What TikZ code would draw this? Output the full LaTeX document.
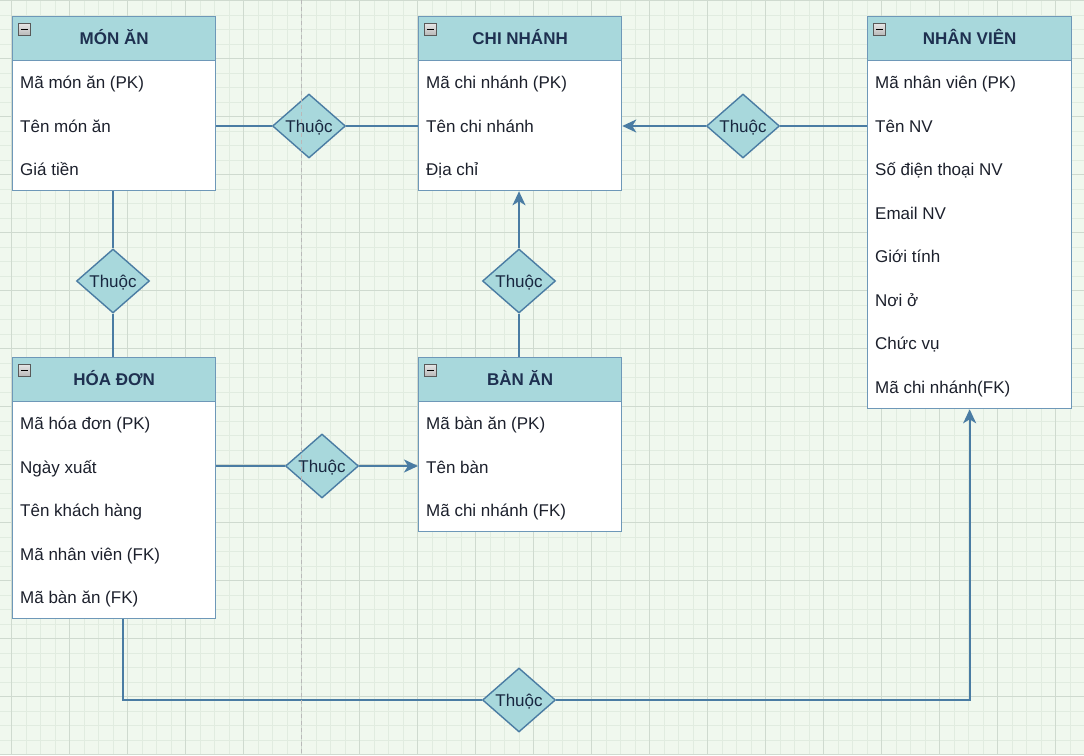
\documentclass[tikz,border=0pt]{standalone}
\usepackage{fontspec}
\setmainfont{Liberation Sans}
\usetikzlibrary{shapes.geometric,arrows.meta,positioning,calc}
\definecolor{gridbg}{RGB}{240,248,238}
\definecolor{gridminor}{RGB}{225,236,224}
\definecolor{gridmajor}{RGB}{207,218,207}
\definecolor{erteal}{RGB}{168,216,220}
\definecolor{erborder}{RGB}{110,152,184}
\definecolor{erline}{RGB}{74,124,163}
\definecolor{ertitle}{RGB}{30,48,80}
\definecolor{ertext}{RGB}{28,32,44}

\tikzset{
  header/.style={draw=erborder, line width=1.3pt, fill=erteal, minimum width=203pt, minimum height=44pt,
    anchor=north west, inner sep=0pt, text height=12.2pt, text depth=0pt,
    font=\fontsize{17}{20}\selectfont\bfseries, text=ertitle},
  body/.style={draw=erborder, line width=1.3pt, fill=white, minimum width=203pt, inner sep=0pt},
  attr/.style={anchor=west, inner sep=0pt, text height=12.2pt, text depth=0pt,
    font=\fontsize{17}{20}\selectfont, text=ertext},
  icon/.style={draw=gray!70!black, line width=0.6pt, top color=gray!20, bottom color=gray!55,
    minimum size=12pt, inner sep=0pt},
  relation/.style={diamond, draw=erline, line width=1.4pt, fill=erteal, minimum width=73pt, minimum height=64pt,
    inner sep=0pt, text height=12.2pt, text depth=0pt, font=\fontsize{17}{20}\selectfont, text=ertitle!80!black},
  link/.style={draw=erline, line width=2pt},
  tip/.style={-{Stealth[length=14pt,width=13pt,inset=4pt]}},
  minorline/.style={draw=gridminor, line width=0.6pt},
  majorline/.style={draw=gridmajor, line width=0.9pt},
  dashline/.style={draw=gray!55, line width=0.8pt, dash pattern=on 4pt off 3pt}
}

\begin{document}
\begin{tikzpicture}[x=1pt, y=-1pt]
  % Canvas and grid
  \useasboundingbox (0,0) rectangle (1084,755);
  \fill[gridbg] (0,0) rectangle (1084,755);
  \foreach \k in {0,...,75} \draw[minorline] ({-2.8+14.5*\k},0) -- ++(0,755);
  \foreach \k in {0,...,52} \draw[minorline] (0,{0.7+14.5*\k}) -- ++(1084,0);
  \foreach \k in {0,...,18} \draw[majorline] ({11.7+58*\k},0) -- ++(0,755);
  \foreach \k in {0,...,13} \draw[majorline] (0,{0.7+58*\k}) -- ++(1084,0);

  % MON AN
  \node[header] (monan) at (12,16) {MÓN ĂN};
  \node[body, minimum height=130pt, below=-1.3pt of monan] (monanbody) {};
  \node[icon, below right=7pt and 6pt of monan.north west] (monanicon) {\rule{7pt}{1.5pt}};
  \node[attr] (monan1) at (20,82.5) {Mã món ăn (PK)};
  \node[attr] (monan2) at (20,126) {Tên món ăn};
  \node[attr] (monan3) at (20,169.5) {Giá tiền};

  % CHI NHANH
  \node[header] (chinhanh) at (418,16) {CHI NHÁNH};
  \node[body, minimum height=130pt, below=-1.3pt of chinhanh] (chinhanhbody) {};
  \node[icon, below right=7pt and 6pt of chinhanh.north west] (chinhanhicon) {\rule{7pt}{1.5pt}};
  \node[attr] (chinhanh1) at (426,82.5) {Mã chi nhánh (PK)};
  \node[attr] (chinhanh2) at (426,126) {Tên chi nhánh};
  \node[attr] (chinhanh3) at (426,169.5) {Địa chỉ};

  % NHAN VIEN
  \node[header, minimum width=204pt] (nhanvien) at (867,16) {NHÂN VIÊN};
  \node[body, minimum width=204pt, minimum height=348pt, below=-1.3pt of nhanvien] (nhanvienbody) {};
  \node[icon, below right=7pt and 6pt of nhanvien.north west] (nhanvienicon) {\rule{7pt}{1.5pt}};
  \node[attr] (nhanvien1) at (875,82.5) {Mã nhân viên (PK)};
  \node[attr] (nhanvien2) at (875,126) {Tên NV};
  \node[attr] (nhanvien3) at (875,169.5) {Số điện thoại NV};
  \node[attr] (nhanvien4) at (875,213) {Email NV};
  \node[attr] (nhanvien5) at (875,256.5) {Giới tính};
  \node[attr] (nhanvien6) at (875,300) {Nơi ở};
  \node[attr] (nhanvien7) at (875,343.5) {Chức vụ};
  \node[attr] (nhanvien8) at (875,387) {Mã chi nhánh(FK)};

  % HOA DON
  \node[header] (hoadon) at (12,357) {HÓA ĐƠN};
  \node[body, minimum height=217pt, below=-1.3pt of hoadon] (hoadonbody) {};
  \node[icon, below right=7pt and 6pt of hoadon.north west] (hoadonicon) {\rule{7pt}{1.5pt}};
  \node[attr] (hoadon1) at (20,423.5) {Mã hóa đơn (PK)};
  \node[attr] (hoadon2) at (20,467) {Ngày xuất};
  \node[attr] (hoadon3) at (20,510.5) {Tên khách hàng};
  \node[attr] (hoadon4) at (20,554) {Mã nhân viên (FK)};
  \node[attr] (hoadon5) at (20,597.5) {Mã bàn ăn (FK)};

  % BAN AN
  \node[header] (banan) at (418,357) {BÀN ĂN};
  \node[body, minimum height=130pt, below=-1.3pt of banan] (bananbody) {};
  \node[icon, below right=7pt and 6pt of banan.north west] (bananicon) {\rule{7pt}{1.5pt}};
  \node[attr] (banan1) at (426,423.5) {Mã bàn ăn (PK)};
  \node[attr] (banan2) at (426,467) {Tên bàn};
  \node[attr] (banan3) at (426,510.5) {Mã chi nhánh (FK)};

  % Relations
  \node[relation] (thuoc1) at (309,126) {Thuộc};
  \node[relation] (thuoc2) at (743,126) {Thuộc};
  \node[relation] (thuoc3) at (113,281) {Thuộc};
  \node[relation] (thuoc4) at (519,281) {Thuộc};
  \node[relation] (thuoc5) at (322,466) {Thuộc};
  \node[relation] (thuoc6) at (519,700) {Thuộc};

  % Connections
  \draw[link] (monanbody.east |- thuoc1) -- (thuoc1.west);
  \draw[link] (thuoc1.east) -- (chinhanhbody.west |- thuoc1);
  \draw[link] (nhanvienbody.west |- thuoc2) -- (thuoc2.east);
  \draw[link, tip] (thuoc2.west) -- (chinhanhbody.east |- thuoc2);
  \draw[link] (monanbody.south -| thuoc3) -- (thuoc3.north);
  \draw[link] (thuoc3.south) -- (hoadon.north -| thuoc3);
  \draw[link] (banan.north -| thuoc4) -- (thuoc4.south);
  \draw[link, tip] (thuoc4.north) -- (chinhanhbody.south -| thuoc4);
  \draw[link] (hoadonbody.east |- thuoc5) -- (thuoc5.west);
  \draw[link, tip] (thuoc5.east) -- (bananbody.west |- thuoc5);
  \draw[link] ([xshift=9pt]hoadonbody.south) |- (thuoc6.west);
  \draw[link, tip] (thuoc6.east) -| (nhanvienbody.south);

  % Page divider
  \draw[dashline] (301.5,0) -- (301.5,755);
\end{tikzpicture}
\end{document}
